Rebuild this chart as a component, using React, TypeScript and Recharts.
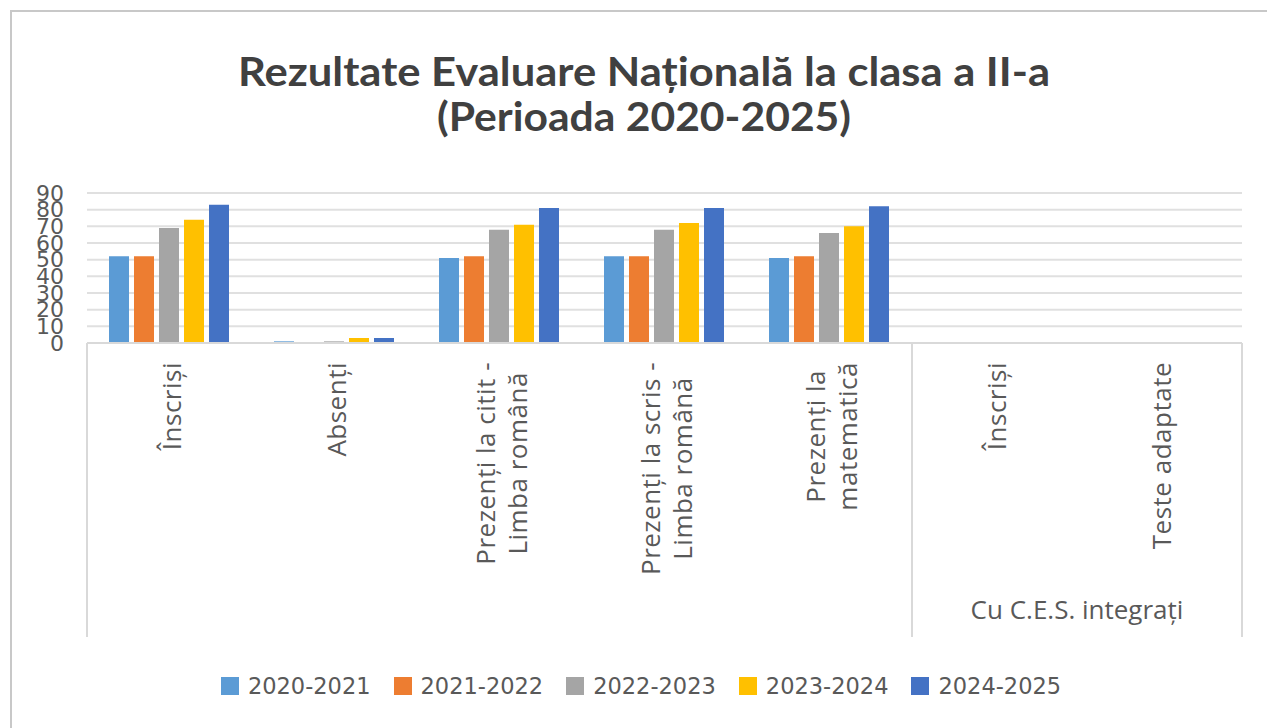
import { BarChart, Bar, XAxis, YAxis, CartesianGrid, Legend } from 'recharts'

const categoryKeys = ['inscrisi', 'absenti', 'citit', 'scris', 'matematica', 'cesInscrisi', 'cesTeste']
const categoryLines = [
    ['Înscriși'],
    ['Absenți'],
    ['Prezenți la citit -', 'Limba română'],
    ['Prezenți la scris -', 'Limba română'],
    ['Prezenți la', 'matematică'],
    ['Înscriși'],
    ['Teste adaptate'],
]
// outer category groups: label + how many categories they span
const groupLabels = ['', 'Cu C.E.S. integrați']
const groupSpans = [5, 2]

const seriesNames = ['2020-2021', '2021-2022', '2022-2023', '2023-2024', '2024-2025']
const seriesColors = ['#5B9BD5', '#ED7D31', '#A5A5A5', '#FFC000', '#4472C4']

const values2020 = [52, 1, 51, 52, 51, 0, 0]
const values2021 = [52, 0, 52, 52, 52, 0, 0]
const values2022 = [69, 1, 68, 68, 66, 0, 0]
const values2023 = [74, 3, 71, 72, 70, 0, 0]
const values2024 = [83, 3, 81, 81, 82, 0, 0]
const allValues = [values2020, values2021, values2022, values2023, values2024]

const yTicks = [0, 10, 20, 30, 40, 50, 60, 70, 80, 90]

const titleLines = ['Rezultate Evaluare Națională la clasa a II-a', '(Perioada 2020-2025)']

const data = categoryKeys.map((key, i) => {
    const row: any = { key }
    seriesNames.forEach((s, j) => { row[s] = allValues[j][i] })
    return row
})

const W = 1267
const H = 728
const AXIS_DEPTH = 294
const LABEL_FONT = 26
const LABEL_SPACING = 0.5
const LABEL_FAMILY = '"Open Sans"'
const TEXT_COLOR = '#595959'
const LINE_COLOR = '#d9d9d9'

let measureCtx: CanvasRenderingContext2D | null = null
function textWidth(s: string) {
    if (!measureCtx) measureCtx = document.createElement('canvas').getContext('2d')
    if (!measureCtx) return s.length * LABEL_FONT * 0.5
    measureCtx.font = `${LABEL_FONT}px ${LABEL_FAMILY}`
    return measureCtx.measureText(s).width + s.length * LABEL_SPACING
}

// group start indexes
const groupStarts: number[] = []
groupSpans.reduce((acc, n) => { groupStarts.push(acc); return acc + n }, 0)

function CategoryTick(props: any) {
    const { x, y, payload, index } = props
    const band = payload && payload.offset ? payload.offset * 2 : 165
    const lines = categoryLines[index] || []
    const lh = 32
    const maxLen = Math.max(...lines.map(textWidth))
    const top = y + 19
    const firstDy = -((lines.length - 1) / 2) * lh + LABEL_FONT * 0.35
    const left = x - band / 2
    const gi = groupStarts.indexOf(index)
    return (
        <g>
            <text
                transform={`translate(${x + 2},${top + maxLen / 2}) rotate(-90)`}
                textAnchor="middle"
                fontFamily={LABEL_FAMILY}
                fontSize={LABEL_FONT}
                letterSpacing={LABEL_SPACING}
                fill={TEXT_COLOR}
            >
                {lines.map((l, i) => (
                    <tspan key={i} x={0} dy={i === 0 ? firstDy : lh}>{l}</tspan>
                ))}
            </text>
            {gi >= 0 && <line x1={left} x2={left} y1={y} y2={y + AXIS_DEPTH} stroke={LINE_COLOR} strokeWidth={2} />}
            {index === categoryKeys.length - 1 && (
                <line x1={x + band / 2} x2={x + band / 2} y1={y} y2={y + AXIS_DEPTH} stroke={LINE_COLOR} strokeWidth={2} />
            )}
            {gi >= 0 && groupLabels[gi] && (
                <text
                    x={left + (groupSpans[gi] * band) / 2}
                    y={y + 267}
                    dy="0.35em"
                    textAnchor="middle"
                    fontFamily={LABEL_FAMILY}
                    fontSize={26}
                    fill={TEXT_COLOR}
                >
                    {groupLabels[gi]}
                </text>
            )}
        </g>
    )
}

function LegendContent() {
    return (
        <div style={{ height: 30, display: 'flex', justifyContent: 'center', alignItems: 'center', gap: 23 }}>
            {seriesNames.map((s, i) => (
                <div key={s} style={{ display: 'flex', alignItems: 'center', gap: 9 }}>
                    <span style={{ width: 18, height: 18, background: seriesColors[i], display: 'inline-block' }} />
                    <span style={{ fontFamily: '"DejaVu Sans"', fontSize: 22.5, color: TEXT_COLOR }}>{s}</span>
                </div>
            ))}
        </div>
    )
}

export default function App() {
    return (
        <div style={{ position: 'absolute', left: 0, top: 0, width: W, height: H, background: '#fff', overflow: 'hidden' }}>
            <div style={{ position: 'absolute', left: 10, top: 10, width: W, height: H, borderTop: '2px solid #c8c8c8', borderLeft: '2px solid #c8c8c8' }} />
            <svg width={W} height={180} style={{ position: 'absolute', left: 0, top: 0 }}>
                {titleLines.map((t, i) => (
                    <text
                        key={i}
                        x={644}
                        y={86 + i * 45}
                        textAnchor="middle"
                        fontFamily="Lato"
                        fontWeight={700}
                        fontSize={40}
                        fill="#404040"
                        textLength={i === 0 ? 812 : 414}
                        lengthAdjust="spacingAndGlyphs"
                    >
                        {t}
                    </text>
                ))}
            </svg>
            <div style={{ position: 'absolute', left: 0, top: 0 }}>
                <BarChart width={W} height={H} data={data} margin={{ top: 193, right: 25, bottom: 27, left: 0 }} barCategoryGap={22} barGap={5}>
                    <CartesianGrid vertical={false} stroke="#e0e0e0" strokeWidth={2} />
                    <XAxis
                        dataKey="key"
                        height={328}
                        interval={0}
                        tickLine={false}
                        tickSize={0}
                        tickMargin={0}
                        axisLine={{ stroke: LINE_COLOR, strokeWidth: 2 }}
                        tick={<CategoryTick />}
                    />
                    <YAxis
                        width={87}
                        domain={[0, 90]}
                        ticks={yTicks}
                        interval={0}
                        axisLine={false}
                        tickLine={false}
                        tickSize={0}
                        tickMargin={23}
                        tick={{ fontFamily: '"DejaVu Sans"', fontSize: 22, fill: TEXT_COLOR }}
                    />
                    <Legend verticalAlign="bottom" wrapperStyle={{ left: 20 }} content={<LegendContent />} />
                    {seriesNames.map((s, i) => (
                        <Bar key={s} dataKey={s} fill={seriesColors[i]} isAnimationActive={false} />
                    ))}
                </BarChart>
            </div>
        </div>
    )
}
